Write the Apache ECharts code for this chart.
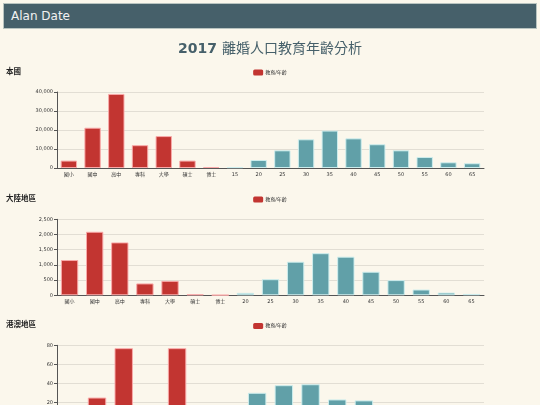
<!DOCTYPE html>
<html>
<head>
<meta charset="utf-8">
<script src="https://cdn.jsdelivr.net/npm/echarts@6/dist/echarts.min.js"></script>
<style>
html,body{margin:0;padding:0;background:#fbf7ec;overflow:hidden;width:540px;height:405px;}
#header{position:absolute;left:3px;top:3px;width:525px;height:24px;background:#46606a;border:1px solid #b9c4c0;z-index:2;
  color:#f2f2f2;font-family:"DejaVu Sans",sans-serif;font-size:12px;line-height:24px;padding-left:7px;box-sizing:content-box;}
#chart{position:absolute;left:0;top:0;width:540px;height:440px;}
</style>
</head>
<body>
<div id="chart"></div>
<div id="header">Alan Date</div>
<script>
var mainTitleYear = '2017';
var mainTitleText = '離婚人口教育年齡分析';
var sectionTitles = ['本國', '大陸地區', '港澳地區'];
var seriesName = '教育/年齡';

var eduCats = ['國小', '國中', '高中', '專科', '大學', '碩士', '博士'];
var ageCats1 = ['15', '20', '25', '30', '35', '40', '45', '50', '55', '60', '65'];
var ageCats2 = ['20', '25', '30', '35', '40', '45', '50', '55', '60', '65'];
var ageCats3 = ['25', '30', '35', '40', '45', '50', '55', '60', '65'];

var taiwanEdu = [3900, 21200, 39000, 12000, 16800, 3900, 500];
var taiwanAge = [400, 4200, 9300, 15100, 19700, 15600, 12500, 9300, 5800, 3000, 2500];
var mainlandEdu = [1160, 2090, 1740, 390, 475, 35, 10];
var mainlandAge = [80, 530, 1105, 1385, 1270, 775, 500, 190, 90, 45];
var hkEdu = [10, 25, 77, 8, 77, 12, 1];
var hkAge = [30, 38, 39, 23, 22, 12, 6, 3, 1];

var yMax = [40000, 2500, 80];
var yInterval = [10000, 500, 20];

var RED = '#c23531', TEAL = '#61a0a8';
var FONT = '"DejaVu Sans","Noto Sans CJK TC",sans-serif';

function buildData(edu, age) {
  return edu.map(function (v) {
    return { value: v, itemStyle: { color: RED, borderColor: 'rgba(250,170,170,0.95)' } };
  }).concat(age.map(function (v) {
    return { value: v, itemStyle: { color: TEAL, borderColor: 'rgba(205,238,238,0.95)' } };
  }));
}

var sets = [
  { cats: eduCats.concat(ageCats1), data: buildData(taiwanEdu, taiwanAge) },
  { cats: eduCats.concat(ageCats2), data: buildData(mainlandEdu, mainlandAge) },
  { cats: eduCats.concat(ageCats3), data: buildData(hkEdu, hkAge) }
];

var gridTops = [92, 219.3, 345.3];
var titleTops = [67.5, 194.5, 321];

var option = {
  backgroundColor: '#fbf7ec',
  animation: false,
  title: [{
    text: '{a|' + mainTitleYear + '} {b|' + mainTitleText + '}', left: 'center', top: 35,
    textStyle: { rich: {
      a: { fontFamily: FONT, fontSize: 14, fontWeight: 'bold', color: '#46606a' },
      b: { fontFamily: FONT, fontSize: 14, fontWeight: 'normal', color: '#46606a' }
    } }
  }].concat(sectionTitles.map(function (t, i) {
    return { text: t, left: 6, top: titleTops[i] + 0.5, padding: 0,
      textStyle: { fontFamily: FONT, fontSize: 7.5, fontWeight: 'bold', color: '#222' } };
  })),
  legend: sectionTitles.map(function (t, i) {
    return { data: [seriesName], left: 'center', top: titleTops[i] + 2, icon: 'roundRect',
      itemWidth: 10, itemHeight: 6, padding: 0,
      textStyle: { fontFamily: FONT, fontSize: 5, color: '#333', padding: [0, 0, 0, -3] } };
  }),
  grid: gridTops.map(function (t) {
    return { left: 57, right: 56, top: t, height: 76 };
  }),
  xAxis: sets.map(function (s, i) {
    return { type: 'category', gridIndex: i, data: s.cats,
      axisLine: { lineStyle: { color: '#555', width: 1 } },
      axisTick: { length: 3, lineStyle: { color: '#555' } },
      axisLabel: { fontFamily: FONT, fontSize: 5, color: '#333', margin: 4, interval: 0 } };
  }),
  yAxis: sets.map(function (s, i) {
    return { type: 'value', gridIndex: i, min: 0, max: yMax[i], interval: yInterval[i],
      axisLine: { show: true, lineStyle: { color: '#555', width: 1 } },
      axisTick: { show: true, length: 3, lineStyle: { color: '#555' } },
      axisLabel: { fontFamily: FONT, fontSize: 5, color: '#333', margin: 4 },
      splitLine: { lineStyle: { color: '#e2ded4' } } };
  }),
  series: sets.map(function (s, i) {
    return { name: seriesName, type: 'bar', xAxisIndex: i, yAxisIndex: i,
      itemStyle: { color: RED, borderWidth: 1 }, data: s.data };
  })
};

var chart = echarts.init(document.getElementById('chart'));
chart.setOption(option);
</script>
</body>
</html>
